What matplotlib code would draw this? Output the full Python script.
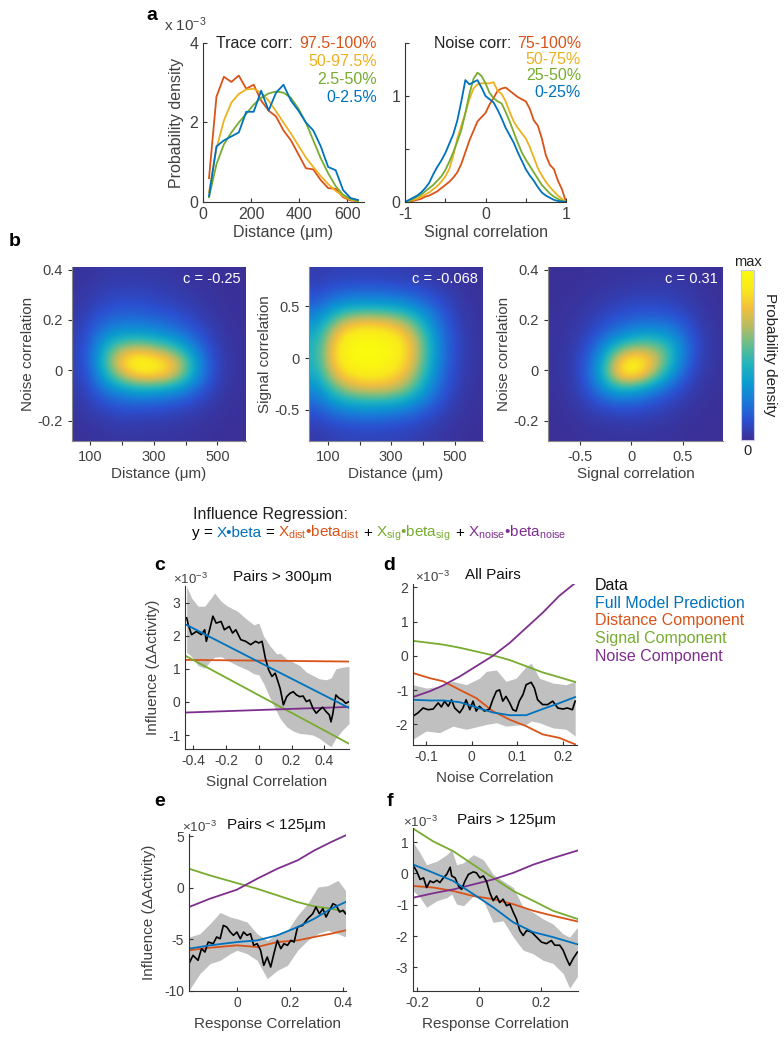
import matplotlib
matplotlib.use('Agg')
import matplotlib.pyplot as plt
import numpy as np
from matplotlib.colors import LinearSegmentedColormap, PowerNorm

plt.rcParams['font.family'] = ['Liberation Sans', 'DejaVu Sans']
plt.rcParams['mathtext.fontset'] = 'custom'
plt.rcParams['mathtext.rm'] = 'Liberation Sans'
plt.rcParams['mathtext.it'] = 'Liberation Sans:italic'
plt.rcParams['mathtext.bf'] = 'Liberation Sans:bold'
plt.rcParams['mathtext.sf'] = 'Liberation Sans'
plt.rcParams['axes.unicode_minus'] = False

W, H = 784, 1050

# ---------------- DATA ----------------
# panel a left: distance histograms (x1e-3)
a1_x = [25, 56, 87, 118, 149, 180, 211, 242, 273, 304, 335, 366, 397, 428, 459, 490, 521, 552, 583, 614, 645]
a1_red = [0.6, 2.65, 3.15, 3.02, 3.18, 2.85, 2.95, 2.55, 2.3, 2.15, 1.8, 1.55, 1.2, 0.85, 0.82, 0.55, 0.35, 0.33, 0.12, 0.04, 0.02]
a1_yellow = [0.25, 1.35, 2.05, 2.5, 2.72, 2.83, 2.85, 2.75, 2.55, 2.28, 2.0, 1.72, 1.42, 1.12, 0.88, 0.65, 0.45, 0.28, 0.15, 0.06, 0.02]
a1_green = [0.12, 0.95, 1.45, 1.75, 2.0, 2.22, 2.45, 2.62, 2.73, 2.78, 2.75, 2.62, 2.35, 2.0, 1.55, 1.1, 0.72, 0.4, 0.18, 0.08, 0.03]
a1_blue = [0.15, 1.4, 1.55, 1.65, 1.75, 2.27, 2.27, 2.8, 2.3, 2.75, 2.95, 2.55, 2.3, 2.0, 1.8, 1.4, 0.88, 0.8, 0.3, 0.1, 0.05]
a1_labels = ['97.5-100%', '50-97.5%', '2.5-50%', '0-2.5%']

# panel a right: signal correlation histograms
a2_x = [-1.0, -0.95, -0.9, -0.85, -0.8, -0.75, -0.7, -0.65, -0.6, -0.55, -0.5, -0.45, -0.4, -0.35, -0.3, -0.25, -0.2,
        -0.15, -0.1, -0.05, 0.0, 0.05, 0.1, 0.15, 0.2, 0.25, 0.3, 0.35, 0.4, 0.45, 0.5, 0.55, 0.6, 0.65, 0.7, 0.75,
        0.8, 0.85, 0.9, 0.95, 1.0]
a2_red = [0, 0.005, 0.01, 0.02, 0.03, 0.05, 0.06, 0.08, 0.1, 0.13, 0.16, 0.19, 0.23, 0.28, 0.36, 0.47, 0.58, 0.67,
          0.76, 0.8, 0.84, 0.92, 0.98, 1.05, 1.07, 1.08, 1.05, 1.02, 0.99, 0.97, 0.95, 0.88, 0.77, 0.72, 0.6, 0.44,
          0.35, 0.31, 0.2, 0.12, 0]
a2_yellow = [0, 0.01, 0.02, 0.03, 0.05, 0.07, 0.09, 0.12, 0.15, 0.19, 0.24, 0.31, 0.44, 0.6, 0.72, 0.84, 0.97, 1.07,
             1.11, 1.12, 1.12, 1.12, 1.13, 1.05, 1.02, 0.95, 0.85, 0.76, 0.7, 0.65, 0.6, 0.52, 0.42, 0.32, 0.25, 0.19,
             0.14, 0.1, 0.06, 0.03, 0]
a2_green = [0, 0.01, 0.03, 0.05, 0.07, 0.1, 0.13, 0.16, 0.2, 0.24, 0.3, 0.38, 0.47, 0.57, 0.68, 0.84, 1.02, 1.16,
            1.22, 1.19, 1.12, 1.03, 0.98, 0.95, 0.93, 0.85, 0.76, 0.66, 0.56, 0.47, 0.4, 0.34, 0.28, 0.22, 0.16, 0.12,
            0.08, 0.05, 0.03, 0.01, 0]
a2_blue = [0, 0.02, 0.04, 0.06, 0.09, 0.13, 0.18, 0.26, 0.33, 0.39, 0.46, 0.55, 0.64, 0.77, 0.95, 1.15, 1.11, 1.13,
           1.15, 1.08, 1.0, 0.97, 0.94, 0.87, 0.79, 0.7, 0.63, 0.56, 0.47, 0.39, 0.31, 0.25, 0.2, 0.14, 0.09, 0.06,
           0.04, 0.02, 0.01, 0.005, 0]
a2_labels = ['75-100%', '50-75%', '25-50%', '0-25%']

# panel b heatmaps (normalised density, rows top->bottom)
hm1_xlim = (43, 590)
hm1_ylim = (-0.28, 0.41)
hm_dist_noise = [
    [0.08, 0.10, 0.12, 0.13, 0.13, 0.12, 0.11, 0.10, 0.08, 0.06, 0.05, 0.04],
    [0.10, 0.14, 0.17, 0.18, 0.18, 0.17, 0.15, 0.13, 0.10, 0.08, 0.06, 0.05],
    [0.12, 0.18, 0.23, 0.25, 0.25, 0.23, 0.21, 0.18, 0.14, 0.10, 0.07, 0.05],
    [0.15, 0.25, 0.32, 0.35, 0.35, 0.33, 0.30, 0.26, 0.20, 0.14, 0.09, 0.06],
    [0.18, 0.33, 0.45, 0.50, 0.50, 0.48, 0.44, 0.38, 0.29, 0.19, 0.11, 0.07],
    [0.20, 0.40, 0.62, 0.75, 0.78, 0.75, 0.68, 0.58, 0.42, 0.25, 0.13, 0.08],
    [0.20, 0.42, 0.72, 0.92, 1.00, 0.98, 0.92, 0.80, 0.55, 0.30, 0.15, 0.08],
    [0.18, 0.38, 0.62, 0.80, 0.90, 0.92, 0.88, 0.75, 0.52, 0.30, 0.14, 0.08],
    [0.15, 0.28, 0.42, 0.50, 0.55, 0.55, 0.52, 0.46, 0.35, 0.22, 0.12, 0.07],
    [0.12, 0.20, 0.26, 0.30, 0.31, 0.30, 0.28, 0.25, 0.20, 0.14, 0.09, 0.06],
    [0.09, 0.13, 0.16, 0.18, 0.18, 0.17, 0.16, 0.14, 0.12, 0.09, 0.07, 0.05],
    [0.06, 0.08, 0.10, 0.11, 0.11, 0.10, 0.10, 0.09, 0.08, 0.06, 0.05, 0.04]]
hm2_xlim = (40, 590)
hm2_ylim = (-0.8, 0.88)
hm_dist_sig = [
    [0.15, 0.17, 0.18, 0.18, 0.18, 0.17, 0.16, 0.14, 0.12, 0.10, 0.08, 0.06],
    [0.22, 0.27, 0.30, 0.31, 0.31, 0.30, 0.28, 0.25, 0.20, 0.15, 0.10, 0.07],
    [0.32, 0.42, 0.48, 0.50, 0.50, 0.49, 0.46, 0.40, 0.32, 0.22, 0.13, 0.08],
    [0.45, 0.62, 0.75, 0.80, 0.80, 0.78, 0.72, 0.60, 0.43, 0.28, 0.16, 0.09],
    [0.55, 0.78, 0.92, 0.96, 0.96, 0.94, 0.88, 0.74, 0.52, 0.32, 0.18, 0.10],
    [0.60, 0.85, 0.98, 1.00, 1.00, 0.99, 0.93, 0.80, 0.56, 0.34, 0.19, 0.10],
    [0.60, 0.85, 0.97, 1.00, 1.00, 0.98, 0.92, 0.78, 0.55, 0.33, 0.18, 0.10],
    [0.55, 0.78, 0.90, 0.94, 0.94, 0.92, 0.86, 0.72, 0.50, 0.30, 0.17, 0.09],
    [0.45, 0.62, 0.75, 0.80, 0.82, 0.80, 0.74, 0.60, 0.43, 0.26, 0.15, 0.08],
    [0.33, 0.45, 0.52, 0.55, 0.55, 0.54, 0.50, 0.42, 0.32, 0.20, 0.12, 0.07],
    [0.22, 0.28, 0.32, 0.34, 0.34, 0.33, 0.30, 0.26, 0.20, 0.14, 0.09, 0.06],
    [0.14, 0.17, 0.19, 0.20, 0.20, 0.19, 0.18, 0.16, 0.13, 0.10, 0.07, 0.05]]
hm3_xlim = (-0.81, 0.89)
hm3_ylim = (-0.28, 0.41)
hm_sig_noise = [
    [0.04, 0.05, 0.06, 0.07, 0.08, 0.09, 0.10, 0.10, 0.10, 0.09, 0.07, 0.05],
    [0.05, 0.06, 0.08, 0.10, 0.12, 0.14, 0.15, 0.15, 0.14, 0.12, 0.09, 0.06],
    [0.06, 0.08, 0.10, 0.14, 0.18, 0.20, 0.22, 0.22, 0.20, 0.16, 0.11, 0.07],
    [0.07, 0.09, 0.14, 0.20, 0.26, 0.30, 0.32, 0.32, 0.30, 0.23, 0.14, 0.08],
    [0.08, 0.11, 0.18, 0.28, 0.38, 0.45, 0.50, 0.50, 0.45, 0.32, 0.18, 0.09],
    [0.08, 0.13, 0.23, 0.40, 0.60, 0.72, 0.76, 0.72, 0.60, 0.38, 0.20, 0.10],
    [0.08, 0.14, 0.28, 0.50, 0.80, 0.98, 0.95, 0.82, 0.60, 0.36, 0.18, 0.09],
    [0.08, 0.14, 0.28, 0.52, 0.82, 0.96, 0.88, 0.70, 0.48, 0.28, 0.15, 0.08],
    [0.07, 0.12, 0.24, 0.40, 0.54, 0.56, 0.50, 0.40, 0.30, 0.19, 0.11, 0.07],
    [0.06, 0.10, 0.17, 0.24, 0.30, 0.30, 0.28, 0.23, 0.18, 0.12, 0.08, 0.05],
    [0.05, 0.07, 0.11, 0.14, 0.16, 0.17, 0.16, 0.14, 0.11, 0.08, 0.06, 0.04],
    [0.04, 0.05, 0.07, 0.08, 0.09, 0.09, 0.09, 0.08, 0.07, 0.06, 0.04, 0.03]]
hm_corr_labels = ['c = -0.25', 'c = -0.068', 'c = 0.31']

# panel c (x1e-3)
c_x = [-0.44, -0.43, -0.41, -0.38, -0.35, -0.33, -0.32, -0.30, -0.28, -0.26, -0.23, -0.21, -0.18, -0.16, -0.14,
       -0.11, -0.08, -0.05, -0.02, 0.0, 0.02, 0.04, 0.06, 0.08, 0.10, 0.11, 0.13, 0.15, 0.17, 0.19, 0.21, 0.23, 0.25,
       0.27, 0.29, 0.31, 0.33, 0.35, 0.37, 0.39, 0.41, 0.43, 0.44, 0.45, 0.47, 0.49, 0.51, 0.53, 0.55]
c_data = [2.54, 2.33, 2.03, 2.13, 2.03, 2.18, 1.83, 2.18, 2.59, 2.38, 2.43, 2.18, 2.28, 2.08, 2.18, 1.88, 1.83, 1.73,
          1.83, 1.78, 1.83, 1.32, 0.97, 0.77, 0.87, 0.72, 0.41, -0.09, 0.16, 0.26, 0.31, 0.21, 0.16, 0.18, 0.01, 0.06,
          -0.19, -0.34, -0.24, -0.16, -0.29, -0.39, -0.6, -0.39, 0.21, 0.11, 0.06, -0.04, 0.01]
c_band_x = [-0.44, -0.41, -0.37, -0.33, -0.29, -0.27, -0.23, -0.19, -0.13, -0.07, -0.03, 0.0, 0.03, 0.07, 0.11,
            0.13, 0.17, 0.21, 0.25, 0.29, 0.33, 0.37, 0.41, 0.44, 0.47, 0.51, 0.55]
c_band_hi = [3.49, 3.14, 2.89, 2.89, 3.14, 3.29, 3.04, 2.89, 2.74, 2.48, 2.33, 2.38, 1.98, 1.68, 1.45, 1.47, 1.3,
             1.2, 1.1, 0.9, 0.8, 0.7, 0.67, 0.72, 1.0, 1.05, 1.07]
c_band_lo = [1.5, 1.37, 1.1, 1.02, 1.27, 1.35, 1.37, 1.25, 1.1, 0.97, 0.85, 0.82, 0.55, 0.1, -0.3, -0.5, -0.75,
             -0.88, -0.95, -0.97, -1.0, -1.1, -1.25, -1.35, -1.1, -0.85, -0.65]
c_fit_x = [-0.45, 0.05, 0.55]
c_full = [2.35, 1.08, -0.18]
c_dist = [1.27, 1.245, 1.22]
c_sig = [1.4, 0.07, -1.26]
c_noise = [-0.32, -0.235, -0.15]

# panel d
d_x = [-0.128, -0.117, -0.106, -0.095, -0.084, -0.073, -0.066, -0.059, -0.051, -0.044, -0.037, -0.026, -0.019,
       -0.012, -0.004, 0.003, 0.010, 0.017, 0.028, 0.039, 0.046, 0.054, 0.061, 0.068, 0.075, 0.083, 0.09, 0.097,
       0.104, 0.112, 0.119, 0.13, 0.137, 0.144, 0.155, 0.166, 0.177, 0.188, 0.199, 0.209, 0.22, 0.226]
d_data = [-1.76, -1.66, -1.52, -1.57, -1.55, -1.37, -1.49, -1.32, -1.47, -1.28, -1.52, -1.66, -1.52, -1.28, -1.57,
          -1.32, -1.61, -1.47, -1.61, -1.55, -1.28, -1.03, -0.99, -1.32, -1.18, -1.37, -1.57, -1.61, -1.32, -1.13,
          -0.84, -0.77, -0.94, -1.28, -1.42, -1.42, -1.32, -1.52, -1.55, -1.52, -1.57, -1.32]
d_band_x = [-0.128, -0.099, -0.07, -0.041, -0.012, 0.017, 0.032, 0.054, 0.075, 0.097, 0.119, 0.13, 0.148, 0.177,
            0.206, 0.226]
d_band_hi = [-0.84, -0.94, -0.89, -0.74, -0.84, -0.65, -0.45, -0.41, -0.74, -0.65, -0.31, -0.21, -0.65, -0.79,
             -0.84, -0.74]
d_band_lo = [-2.43, -2.19, -2.24, -2.05, -2.14, -2.05, -2.0, -1.95, -2.05, -2.02, -2.0, -1.9, -1.95, -2.1, -2.14,
             -2.34]
d_fit_x = [-0.128, -0.091, -0.062, -0.026, 0.01, 0.046, 0.083, 0.119, 0.155, 0.191, 0.226]
d_full = [-1.28, -1.3, -1.3, -1.35, -1.5, -1.65, -1.73, -1.73, -1.55, -1.38, -1.2]
d_dist = [-0.5, -0.65, -0.74, -0.99, -1.23, -1.61, -1.86, -2.05, -2.29, -2.39, -2.58]
d_sig = [0.44, 0.38, 0.33, 0.24, 0.13, 0.02, -0.12, -0.3, -0.48, -0.62, -0.76]
d_noise = [-1.2, -1.03, -0.86, -0.6, -0.3, 0.0, 0.38, 0.82, 1.26, 1.75, 2.13]

# panel e
e_x = [-0.18, -0.165, -0.146, -0.133, -0.12, -0.108, -0.089, -0.076, -0.063, -0.051, -0.038, -0.025, -0.013, 0.0,
       0.013, 0.025, 0.038, 0.051, 0.063, 0.076, 0.089, 0.101, 0.114, 0.127, 0.139, 0.152, 0.165, 0.177, 0.19, 0.203,
       0.215, 0.228, 0.247, 0.266, 0.285, 0.297, 0.31, 0.323, 0.335, 0.348, 0.361, 0.373, 0.386, 0.399, 0.408]
e_data = [-7.35, -6.55, -7.03, -5.9, -6.23, -5.26, -5.42, -4.77, -4.94, -3.65, -3.81, -4.29, -4.61, -4.29, -4.94,
          -4.29, -4.61, -4.45, -5.58, -5.42, -6.06, -7.52, -6.71, -7.68, -6.39, -5.1, -5.9, -5.42, -5.58, -5.1,
          -5.26, -3.81, -3.65, -3.0, -2.52, -1.87, -2.52, -2.03, -2.84, -2.19, -1.55, -1.71, -2.35, -2.19, -2.52]
e_band_x = [-0.18, -0.139, -0.101, -0.063, -0.025, 0.0, 0.038, 0.076, 0.114, 0.152, 0.19, 0.228, 0.266, 0.304,
            0.342, 0.38, 0.408]
e_band_hi = [-4.77, -4.45, -3.48, -2.4, -2.84, -3.0, -3.32, -4.45, -5.1, -4.45, -4.13, -2.68, -1.55, 0.06, 0.2,
             0.71, -0.26]
e_band_lo = [-9.94, -8.32, -7.35, -7.03, -6.39, -6.06, -6.39, -7.03, -8.8, -8.0, -7.52, -6.06, -5.1, -4.45,
             -4.13, -4.45, -4.77]
e_fit_x = [-0.18, -0.101, 0.0, 0.076, 0.152, 0.228, 0.291, 0.354, 0.408]
e_full = [-5.9, -5.58, -5.26, -5.1, -4.61, -3.81, -3.0, -2.03, -1.39]
e_dist = [-6.06, -5.81, -5.58, -5.74, -5.26, -5.1, -4.77, -4.45, -4.13]
e_sig = [1.84, 1.19, 0.45, -0.1, -0.74, -1.39, -1.81, -2.03, -2.35]
e_noise = [-1.87, -1.06, -0.19, 0.87, 1.84, 2.65, 3.61, 4.42, 5.06]

# panel f
f_x = [-0.211, -0.201, -0.190, -0.179, -0.169, -0.158, -0.147, -0.136, -0.126, -0.115, -0.104, -0.093, -0.088,
       -0.077, -0.066, -0.056, -0.045, -0.034, -0.018, -0.008, 0.003, 0.014, 0.024, 0.035, 0.046, 0.057, 0.067,
       0.078, 0.089, 0.100, 0.111, 0.121, 0.132, 0.143, 0.154, 0.170, 0.186, 0.202, 0.218, 0.234, 0.245, 0.261,
       0.272, 0.283, 0.293, 0.304, 0.318]
f_data = [0.23, 0.07, -0.19, -0.14, -0.45, -0.24, -0.29, -0.22, -0.29, -0.14, -0.03, 0.2, -0.08, -0.14, -0.4,
          -0.51, -0.24, -0.03, 0.05, 0.02, -0.14, -0.08, -0.24, -0.61, -0.87, -0.72, -0.93, -0.82, -1.03, -0.98,
          -1.24, -1.45, -1.82, -1.98, -1.82, -1.87, -2.03, -2.19, -2.24, -2.14, -2.29, -2.29, -2.45, -2.72, -2.93,
          -2.72, -2.51]
f_band_x = [-0.211, -0.190, -0.169, -0.136, -0.104, -0.088, -0.072, -0.050, -0.018, 0.014, 0.046, 0.078, 0.111,
            0.143, 0.175, 0.207, 0.239, 0.272, 0.293, 0.318]
f_band_hi = [0.97, 0.65, 0.28, 0.39, 0.6, 0.76, 0.28, 0.34, 0.6, 0.44, -0.03, -0.24, -0.45, -1.08, -1.24, -1.45,
             -1.61, -1.93, -2.03, -1.72]
f_band_lo = [-0.56, -0.77, -1.08, -0.87, -0.77, -0.66, -0.98, -1.03, -0.72, -0.87, -1.56, -1.51, -2.03, -2.45,
             -2.56, -2.77, -2.87, -3.19, -3.66, -3.29]
f_fit_x = [-0.211, -0.147, -0.083, -0.018, 0.046, 0.111, 0.175, 0.239, 0.318]
f_full = [0.28, 0.02, -0.24, -0.66, -1.08, -1.56, -1.87, -2.03, -2.26]
f_dist = [-0.4, -0.45, -0.56, -0.72, -0.82, -0.98, -1.19, -1.35, -1.53]
f_sig = [1.42, 1.02, 0.71, 0.28, -0.14, -0.56, -0.87, -1.19, -1.45]
f_noise = [-0.77, -0.63, -0.51, -0.35, -0.19, 0.02, 0.28, 0.49, 0.73]

legend_labels = ['Data', 'Full Model Prediction', 'Distance Component', 'Signal Component', 'Noise Component']

# ---------------- STYLE ----------------
BLUE = '#0072BD'
RED = '#D95319'
YEL = '#EDB120'
GRN = '#77AC30'
PUR = '#7E2F8E'
GRAY = '#C0C0C0'
TXT = '#404040'
parula = LinearSegmentedColormap.from_list('parula', [
    '#3B2F95', '#2B4FD0', '#1A78D8', '#0B9ACF', '#20B4BE', '#62BD8E', '#B6BC62', '#F2BF3E', '#F9E81C', '#F9FB0E'])

fig = plt.figure(figsize=(W / 100, H / 100), dpi=100)


def rect(l, r, t, b):
    return [l / W, 1 - b / H, (r - l) / W, (b - t) / H]


def ftext(x, y, s, **kw):
    return fig.text(x / W, 1 - y / H, s, **kw)


def style(ax, tick_fs, direction='in'):
    for s in ['top', 'right']:
        ax.spines[s].set_visible(False)
    for s in ['left', 'bottom']:
        ax.spines[s].set_color('#333333')
        ax.spines[s].set_linewidth(0.8)
    ax.tick_params(direction=direction, length=3, width=0.8, colors='#333333', labelcolor=TXT,
                   labelsize=tick_fs)


# ---- panel a left ----
ax = fig.add_axes(rect(203, 364, 43, 202))
for yv, col in zip([a1_red, a1_yellow, a1_green, a1_blue], [RED, YEL, GRN, BLUE]):
    ax.plot(a1_x, yv, color=col, lw=1.3)
ax.set_xlim(0, 670)
ax.set_ylim(0, 4)
ax.set_xticks([0, 200, 400, 600])
ax.set_yticks([0, 2, 4])
style(ax, 11.5)
ax.set_xlabel('Distance (μm)', fontsize=11.5, color=TXT, labelpad=2)
ax.set_ylabel('Probability density', fontsize=11.5, color=TXT, labelpad=4)
ftext(185, 25, 'x 10$^{-3}$', fontsize=11, color=TXT, ha='center', va='center')
ftext(216, 44, 'Trace corr:', fontsize=11.5, color='#222222', ha='left', va='center')
for i, (lab, col) in enumerate(zip(a1_labels, [RED, YEL, GRN, BLUE])):
    ftext(377, 44 + 17.8 * i, lab, fontsize=11.5, color=col, ha='right', va='center')

# ---- panel a right ----
ax = fig.add_axes(rect(405, 566, 43, 202))
for yv, col in zip([a2_red, a2_yellow, a2_green, a2_blue], [RED, YEL, GRN, BLUE]):
    ax.plot(a2_x, yv, color=col, lw=1.3)
ax.set_xlim(-1, 1)
ax.set_ylim(0, 1.5)
ax.set_xticks([-1, -0.5, 0, 0.5, 1])
ax.set_xticklabels(['-1', '', '0', '', '1'])
ax.set_yticks([0, 0.5, 1, 1.5])
ax.set_yticklabels(['0', '', '1', ''])
style(ax, 11.5)
ax.set_xlabel('Signal correlation', fontsize=11.5, color=TXT, labelpad=2)
ftext(434, 43, 'Noise corr:', fontsize=11.5, color='#222222', ha='left', va='center')
for i, (lab, col) in enumerate(zip(a2_labels, [RED, YEL, GRN, BLUE])):
    ftext(581, 43 + 16.5 * i, lab, fontsize=11.5, color=col, ha='right', va='center')

# ---- panel b heatmaps ----
hm_specs = [
    (rect(72, 246, 267, 441), hm_dist_noise, hm1_xlim, hm1_ylim, 'Distance (μm)', 'Noise correlation',
     [100, 200, 300, 400, 500], ['100', '', '300', '', '500'], [-0.2, 0, 0.2, 0.4], ['-0.2', '0', '0.2', '0.4']),
    (rect(309, 483, 267, 441), hm_dist_sig, hm2_xlim, hm2_ylim, 'Distance (μm)', 'Signal correlation',
     [100, 200, 300, 400, 500], ['100', '', '300', '', '500'], [-0.5, 0, 0.5], ['-0.5', '0', '0.5']),
    (rect(548, 723, 267, 441), hm_sig_noise, hm3_xlim, hm3_ylim, 'Signal correlation', 'Noise correlation',
     [-0.5, 0, 0.5], ['-0.5', '0', '0.5'], [-0.2, 0, 0.2, 0.4], ['-0.2', '0', '0.2', '0.4']),
]
norm = PowerNorm(gamma=1.6, vmin=0, vmax=1)
im = None
for (r, grid, xl, yl, xlab, ylab, xt, xtl, yt, ytl), clab in zip(hm_specs, hm_corr_labels):
    ax = fig.add_axes(r)
    im = ax.imshow(np.array(grid), extent=[xl[0], xl[1], yl[0], yl[1]], aspect='auto', cmap=parula,
                   norm=norm, interpolation='bicubic', origin='upper')
    ax.set_xlim(*xl)
    ax.set_ylim(*yl)
    ax.set_xticks(xt)
    ax.set_xticklabels(xtl)
    ax.set_yticks(yt)
    ax.set_yticklabels(ytl)
    style(ax, 10.5, direction='out')
    ax.spines['left'].set_color('#888888')
    ax.spines['bottom'].set_color('#888888')
    ax.set_xlabel(xlab, fontsize=11, color=TXT, labelpad=2)
    ax.set_ylabel(ylab, fontsize=11, color=TXT, labelpad=2)
    ax.text(0.97, 0.93, clab, transform=ax.transAxes, ha='right', va='center', color='white', fontsize=10.5)

cax = fig.add_axes(rect(741, 754, 270, 440))
cb = fig.colorbar(im, cax=cax)
cb.set_ticks([])
cb.minorticks_off()
cb.outline.set_edgecolor('#c8c8e8')
cb.outline.set_linewidth(0.8)
ftext(747.5, 262, 'max', fontsize=10.5, color='#222222', ha='center', va='center')
ftext(747.5, 451, '0', fontsize=10.5, color='#222222', ha='center', va='center')
ftext(770, 355, 'Probability density', fontsize=11, color='#222222', ha='center', va='center', rotation=-90)

# ---- Regression text ----
ftext(270, 515, 'Influence Regression:', fontsize=11.5, color='#222222', ha='center', va='center')
renderer = fig.canvas.get_renderer()
pieces = [('y', 'black', 4), ('=', 'black', 4), ('X•beta', BLUE, 4), ('=', 'black', 4),
          (r'X$_{\mathrm{dist}}$•beta$_{\mathrm{dist}}$', RED, 4), ('+', 'black', 4),
          (r'X$_{\mathrm{sig}}$•beta$_{\mathrm{sig}}$', GRN, 4), ('+', 'black', 4),
          (r'X$_{\mathrm{noise}}$•beta$_{\mathrm{noise}}$', PUR, 0)]
xp = 192
for s, col, gap in pieces:
    t = ftext(xp, 537, s, fontsize=11, color=col, ha='left', va='baseline')
    bb = t.get_window_extent(renderer=renderer)
    xp += bb.width + gap


# ---- panels c-f ----
def reg_panel(r, x, data, bx, blo, bhi, fx, full, dist, sig, noise, xlim, ylim, xt, yt):
    ax = fig.add_axes(r)
    ax.fill_between(bx, blo, bhi, color=GRAY, lw=0)
    ax.plot(fx, dist, color=RED, lw=1.3)
    ax.plot(fx, sig, color=GRN, lw=1.3)
    ax.plot(fx, noise, color=PUR, lw=1.3)
    ax.plot(x, data, color='black', lw=1.2)
    ax.plot(fx, full, color=BLUE, lw=1.3)
    ax.set_xlim(*xlim)
    ax.set_ylim(*ylim)
    ax.set_xticks(xt)
    ax.set_xticklabels([('%g' % v) for v in xt])
    ax.set_yticks(yt)
    style(ax, 10)
    return ax


ax = reg_panel(rect(185, 349, 586, 749), c_x, c_data, c_band_x, c_band_lo, c_band_hi, c_fit_x, c_full, c_dist,
               c_sig, c_noise, (-0.45, 0.55), (-1.42, 3.5), [-0.4, -0.2, 0, 0.2, 0.4], [-1, 0, 1, 2, 3])
ax.set_xlabel('Signal Correlation', fontsize=11, color=TXT, labelpad=5)
ax.set_ylabel('Influence (ΔActivity)', fontsize=11, color=TXT, labelpad=6)

ax = reg_panel(rect(413, 577, 584, 745), d_x, d_data, d_band_x, d_band_lo, d_band_hi, d_fit_x, d_full, d_dist,
               d_sig, d_noise, (-0.128, 0.23), (-2.6, 2.1), [-0.1, 0, 0.1, 0.2], [-2, -1, 0, 1, 2])
ax.set_xlabel('Noise Correlation', fontsize=11, color=TXT, labelpad=5)

ax = reg_panel(rect(189, 346, 834, 991), e_x, e_data, e_band_x, e_band_lo, e_band_hi, e_fit_x, e_full, e_dist,
               e_sig, e_noise, (-0.18, 0.41), (-10, 5.2), [0, 0.2, 0.4], [-10, -5, 0, 5])
ax.set_xlabel('Response Correlation', fontsize=11, color=TXT, labelpad=5)
ax.set_ylabel('Influence (ΔActivity)', fontsize=11, color=TXT, labelpad=6)

ax = reg_panel(rect(413, 578, 828, 991), f_x, f_data, f_band_x, f_band_lo, f_band_hi, f_fit_x, f_full, f_dist,
               f_sig, f_noise, (-0.213, 0.32), (-3.75, 1.45), [-0.2, 0, 0.2], [-3, -2, -1, 0, 1])
ax.set_xlabel('Response Correlation', fontsize=11, color=TXT, labelpad=5)

# titles
for (xm, ym, xt_, tt) in [(173, 577, 233, 'Pairs > 300μm'), (415, 575, 465, 'All Pairs'),
                          (182, 825, 227, 'Pairs < 125μm'), (403, 820, 457, 'Pairs > 125μm')]:
    ftext(xm, ym + 2, '×10$^{-3}$', fontsize=9.5, color=TXT, ha='left', va='center')
    ftext(xt_, ym, tt, fontsize=11, color='#111111', ha='left', va='center')

# legend
for i, (lab, col) in enumerate(zip(legend_labels, ['#111111', BLUE, RED, GRN, PUR])):
    ftext(595, 585 + 18 * i, lab, fontsize=11.5, color=col, ha='left', va='center')

# panel letters
for lab, x, y in [('a', 152, 15), ('b', 15, 242), ('c', 160, 565), ('d', 389, 565), ('e', 160, 802),
                  ('f', 390, 802)]:
    ftext(x, y, lab, fontsize=14, fontweight='bold', ha='center', va='center')

fig.savefig('out.png', dpi=100)
